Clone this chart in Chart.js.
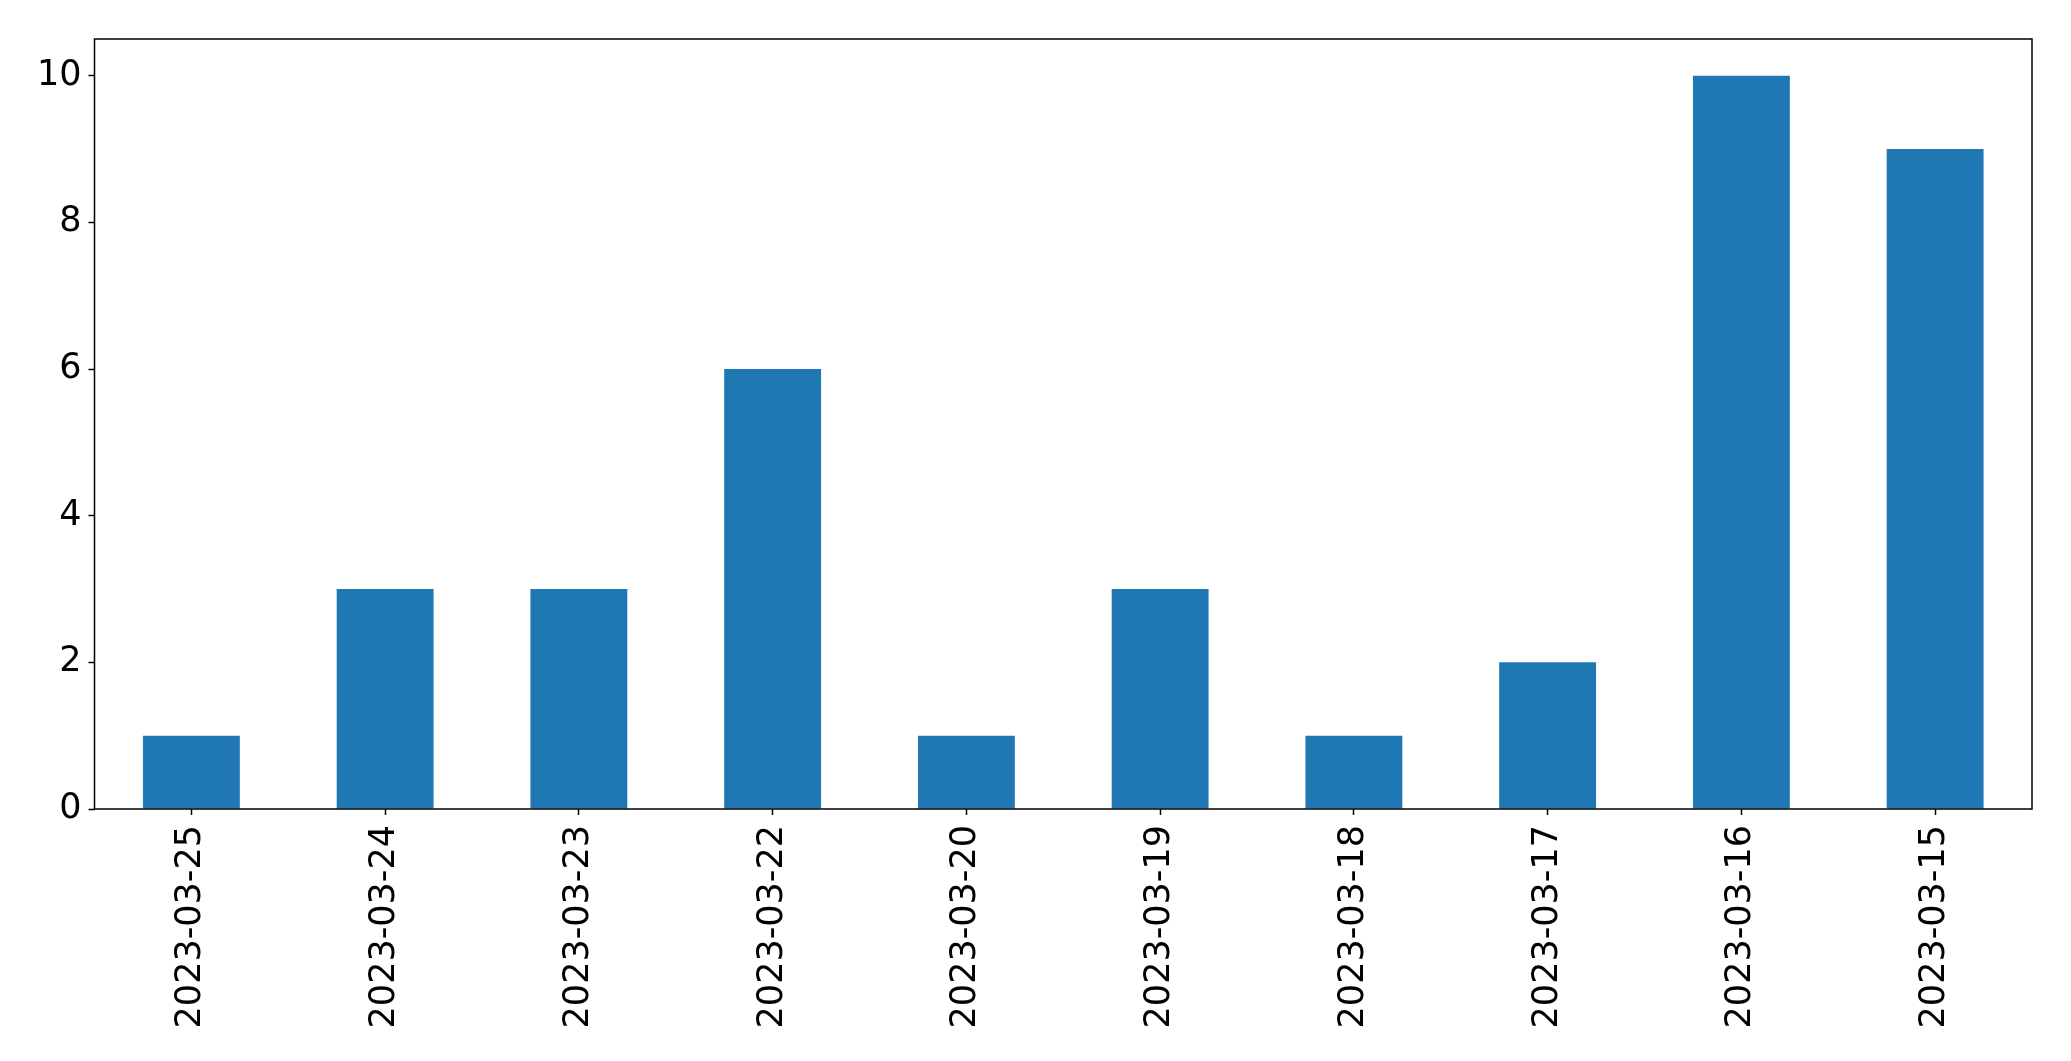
<!DOCTYPE html>
<head>
    <script src="https://cdn.jsdelivr.net/npm/chart.js"></script>
    <title>Daily counts</title>
    <style>
      html, body {
        margin: 0;
        padding: 0;
        background: #fff;
      }
      canvas {
        display: block;
      }
    </style>
</head>
<body>
    <canvas id="canvasChart" width="2071" height="1061"></canvas>
    <script>
      const dates = ['2023-03-25', '2023-03-24', '2023-03-23', '2023-03-22', '2023-03-20',
                     '2023-03-19', '2023-03-18', '2023-03-17', '2023-03-16', '2023-03-15']
      const counts = [1, 3, 3, 6, 1, 3, 1, 2, 10, 9]
      const y_ticks = [0, 2, 4, 6, 8, 10]

      const tick_font = { family: 'DejaVu Sans', size: 35 }

      // matplotlib-like frame round the plot area
      const frame = {
        id: 'frame',
        afterDraw(chart) {
          const a = chart.chartArea;
          const c = chart.ctx;
          c.save();
          c.strokeStyle = '#000';
          c.lineWidth = 1.5;
          c.strokeRect(a.left, a.top, a.right - a.left, a.bottom - a.top);
          c.restore();
        }
      }

      const ctx = document.getElementById('canvasChart').getContext('2d');
      const myChart = new Chart(ctx, {
        type: 'bar',
        data: {
          labels: dates,
          datasets: [{
            data: counts,
            backgroundColor: '#1f77b4',
            borderWidth: 0,
            categoryPercentage: 0.5,
            barPercentage: 1.0
          }]
        },
        options: {
          responsive: false,
          animation: false,
          devicePixelRatio: 1,
          layout: { padding: { top: 39, right: 39, bottom: 0, left: 0 } },
          plugins: {
            legend: { display: false },
            tooltip: { enabled: false }
          },
          scales: {
            x: {
              offset: true,
              grid: { display: true, offset: false, drawOnChartArea: false, tickLength: 6, tickColor: '#000', tickWidth: 1.5 },
              border: { display: false },
              ticks: { color: '#000', font: tick_font, minRotation: 90, maxRotation: 90, autoSkip: false, padding: 10 },
              afterFit(scale) { scale.height = 252; }
            },
            y: {
              min: 0,
              max: 10.5,
              grid: { display: true, drawOnChartArea: false, tickLength: 6, tickColor: '#000', tickWidth: 1.5 },
              border: { display: false },
              ticks: { color: '#000', font: tick_font, padding: 7 },
              afterBuildTicks(scale) { scale.ticks = y_ticks.map(v => ({ value: v })); },
              afterFit(scale) { scale.width = 94.5; }
            }
          }
        },
        plugins: [frame]
      });
    </script>
</body>
</html>
